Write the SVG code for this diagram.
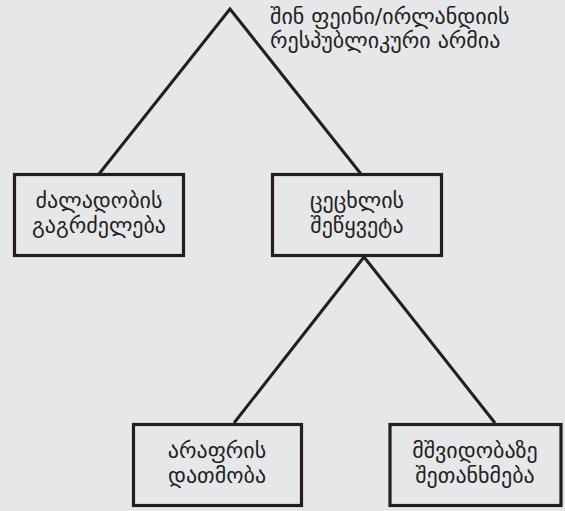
<svg xmlns="http://www.w3.org/2000/svg" width="565" height="511" viewBox="0 0 565 511">
<style>
.bg{fill:#e6e7e8}
.box{fill:#e6e7e8;stroke:#231f20;stroke-width:3.2}
.edge{fill:none;stroke:#231f20;stroke-width:3}
text{font-family:"DejaVu Sans","Noto Sans",sans-serif;font-size:22px;fill:#231f20}
.c{text-anchor:middle}
</style>
<rect class="bg" x="0" y="0" width="565" height="511"/>
<g id="connectors">
<polyline class="edge" points="99,174 230,9 361,174"/>
<polyline class="edge" points="234,423 364,257 495,423"/>
</g>
<g id="root">
<text x="270" y="24">შინ ფეინი/ირლანდიის</text>
<text x="270" y="48">რესპუბლიკური არმია</text>
</g>
<g id="n1">
<rect class="box" x="14.5" y="174.5" width="169" height="81"/>
<text class="c" x="99" y="208">ძალადობის</text>
<text class="c" x="99" y="233">გაგრძელება</text>
</g>
<g id="n2">
<rect class="box" x="272.5" y="174.5" width="169" height="81"/>
<text class="c" x="357" y="208">ცეცხლის</text>
<text class="c" x="357" y="233">შეწყვეტა</text>
</g>
<g id="n3">
<rect class="box" x="133.5" y="424.5" width="168" height="81"/>
<text class="c" x="217" y="458">არაფრის</text>
<text class="c" x="217" y="483">დათმობა</text>
</g>
<g id="n4">
<rect class="box" x="390" y="424.5" width="171" height="81"/>
<text class="c" x="475" y="458">მშვიდობაზე</text>
<text class="c" x="475" y="483">შეთანხმება</text>
</g>
</svg>
